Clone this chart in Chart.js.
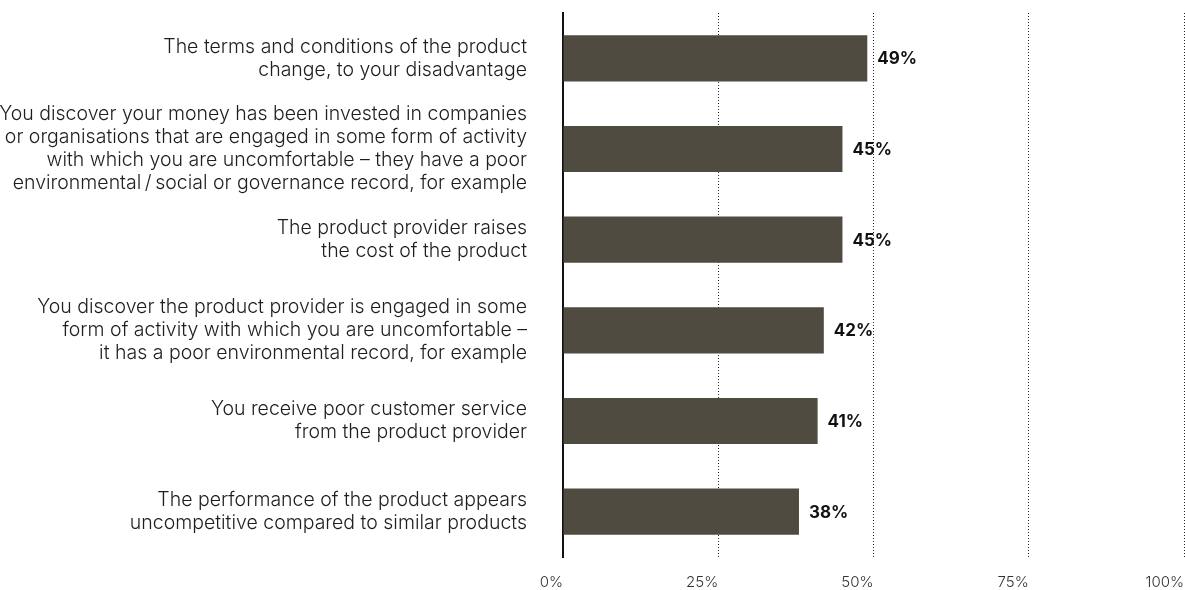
<!DOCTYPE html>
<html>
<head>
<meta charset="utf-8">
<script src="https://cdn.jsdelivr.net/npm/chart.js@4.4.0/dist/chart.umd.min.js"></script>
<style>
    html, body { margin: 0; padding: 0; background: #fff; }
    #wrap { position: relative; width: 1185px; height: 590px; }
</style>
</head>
<body>
<div id="wrap"><canvas id="reasonsChart"></canvas></div>
<script>
// Reasons to move money out of a product (share of respondents)
const reasons = [
    ['The terms and conditions of the product', 'change, to your disadvantage'],
    ['You discover your money has been invested in companies',
     'or organisations that are engaged in some form of activity',
     'with which you are uncomfortable \u2013 they have a poor',
     'environmental\u2009/\u2009social or governance record, for example'],
    ['The product provider raises', 'the cost of the product'],
    ['You discover the product provider is engaged in some',
     'form of activity with which you are uncomfortable \u2013',
     'it has a poor environmental record, for example'],
    ['You receive poor customer service', 'from the product provider'],
    ['The performance of the product appears', 'uncompetitive compared to similar products']
];
const shares = [49, 45, 45, 42, 41, 38];
const axisTicks = [0, 25, 50, 75, 100];

const fontFamily = 'Inter, "Noto Sans", Arial, sans-serif';

// Value labels at the end of each bar
const barValueLabels = {
    id: 'barValueLabels',
    afterDatasetsDraw(chart) {
        const ctx = chart.ctx;
        const meta = chart.getDatasetMeta(0);
        ctx.save();
        ctx.font = `700 17px ${fontFamily}`;
        ctx.fillStyle = '#111';
        ctx.textAlign = 'left';
        ctx.textBaseline = 'middle';
        meta.data.forEach((bar, i) => {
            ctx.fillText(shares[i] + '%', bar.x + 10, bar.y + 1);
        });
        ctx.restore();
    }
};

// keep the plot area fixed: no extra room reserved for edge labels
function noEdgePadding(scale) {
    scale.paddingTop = 0;
    scale.paddingBottom = 0;
    scale.paddingLeft = 0;
    scale.paddingRight = 0;
}

function renderChart() {
    const ctx = document.getElementById('reasonsChart').getContext('2d');
    new Chart(ctx, {
        type: 'bar',
        data: {
            labels: reasons,
            datasets: [{
                data: shares,
                backgroundColor: '#4f4b40',
                borderWidth: 0,
                categoryPercentage: 1,
                barPercentage: 0.51
            }]
        },
        options: {
            indexAxis: 'y',
            responsive: true,
            maintainAspectRatio: false,
            animation: false,
            layout: {
                padding: { top: 13, right: 1, left: 0, bottom: 0 }
            },
            scales: {
                x: {
                    min: 0,
                    max: 100,
                    afterBuildTicks: scale => {
                        scale.ticks = axisTicks.map(v => ({ value: v }));
                    },
                    afterFit: scale => {
                        scale.height = 33;
                        noEdgePadding(scale);
                    },
                    grid: {
                        drawTicks: false,
                        lineWidth: 1,
                        color: c => (c.tick && c.tick.value === 0) ? 'rgba(0,0,0,0)' : '#222'
                    },
                    border: { display: false, dash: [1, 2] },
                    ticks: {
                        align: 'end',
                        padding: 16,
                        color: '#333',
                        autoSkip: false,
                        maxRotation: 0,
                        font: { family: fontFamily, size: 15, weight: 300 },
                        callback: v => v + '%'
                    }
                },
                y: {
                    afterFit: scale => {
                        scale.width = 563;
                        noEdgePadding(scale);
                    },
                    grid: { display: false, drawTicks: false },
                    border: { display: true, color: '#111', width: 2 },
                    ticks: {
                        padding: 36,
                        color: '#1e1e1e',
                        autoSkip: false,
                        font: { family: fontFamily, size: 19.5, weight: 300, lineHeight: '23px' }
                    }
                }
            },
            plugins: {
                legend: { display: false },
                tooltip: { enabled: false }
            }
        },
        plugins: [barValueLabels]
    });
}

document.addEventListener('DOMContentLoaded', renderChart);
</script>
</body>
</html>
